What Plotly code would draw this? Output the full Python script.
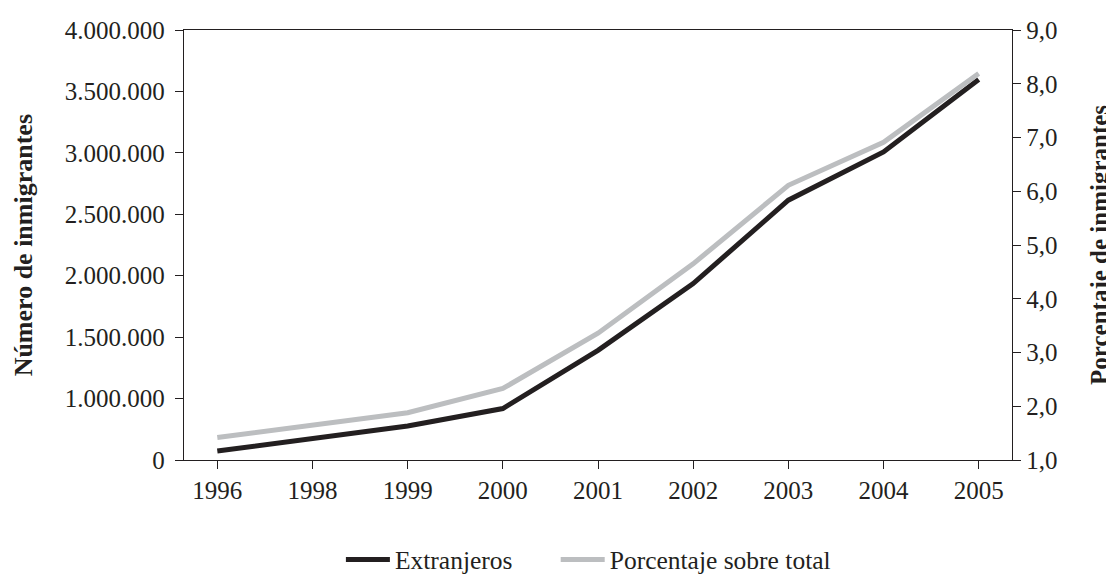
import plotly.graph_objects as go

years = ["1996", "1998", "1999", "2000", "2001", "2002", "2003", "2004", "2005"]
extranjeros = [573000, 674000, 777000, 919000, 1393000, 1936000, 2615000, 3008000, 3598000]
porcentaje = [1.42, 1.64, 1.88, 2.33, 3.36, 4.65, 6.11, 6.91, 8.19]

left_tickvals = [500000, 1000000, 1500000, 2000000, 2500000, 3000000, 3500000, 4000000]
left_ticktext = ["0", "1.000.000", "1.500.000", "2.000.000", "2.500.000", "3.000.000", "3.500.000", "4.000.000"]
right_tickvals = [1, 2, 3, 4, 5, 6, 7, 8, 9]
right_ticktext = ["1,0", "2,0", "3,0", "4,0", "5,0", "6,0", "7,0", "8,0", "9,0"]

FONT = "Liberation Serif"
INK = "#231f20"
PAD = "\u00a0" * 6  # spacing between legend entries

fig = go.Figure()
fig.add_trace(go.Scatter(x=years, y=extranjeros, name="Extranjeros" + PAD, mode="lines",
                         line=dict(color=INK, width=5), yaxis="y"))
fig.add_trace(go.Scatter(x=years, y=porcentaje, name="Porcentaje sobre total", mode="lines",
                         line=dict(color="#bcbec0", width=5), yaxis="y2"))

axis_common = dict(showline=True, linecolor=INK, linewidth=1.3, ticks="outside",
                   ticklen=8, tickwidth=1.3, tickcolor=INK, showgrid=False, zeroline=False,
                   automargin=False,
                   tickfont=dict(family=FONT, size=25, color=INK))

# The page body has an 8px default margin, so the figure is sized to fit the window.
fig.update_layout(
    width=1106, height=569,
    margin=dict(l=176, r=102, t=22, b=117, autoexpand=False),
    paper_bgcolor="white", plot_bgcolor="white",
    font=dict(family=FONT, color=INK),
    showlegend=True,
    legend=dict(orientation="h", xref="container", x=0.301, xanchor="left",
                yref="container", y=0.03, yanchor="middle",
                font=dict(family=FONT, size=25.5, color=INK), itemwidth=44,
                bgcolor="rgba(0,0,0,0)"),
    xaxis=dict(type="category", range=[-0.35, 8.35], mirror=True, **axis_common),
    yaxis=dict(range=[500000, 4000000], tickvals=left_tickvals, ticktext=left_ticktext,
               ticklabelstandoff=5, **axis_common),
    yaxis2=dict(range=[1, 9], tickvals=right_tickvals, ticktext=right_ticktext,
                overlaying="y", side="right", **axis_common),
    annotations=[
        dict(text="<b>Número de inmigrantes</b>", xref="paper", yref="paper",
             x=-0.194, y=0.5, xanchor="center", yanchor="middle", textangle=-90,
             showarrow=False, font=dict(family=FONT, size=26, color=INK)),
        dict(text="<b>Porcentaje de inmigrantes</b>", xref="paper", yref="paper",
             x=1.105, y=0.5, xanchor="center", yanchor="middle", textangle=-90,
             showarrow=False, font=dict(family=FONT, size=25, color=INK)),
    ],
)

fig.write_html("out.html")
